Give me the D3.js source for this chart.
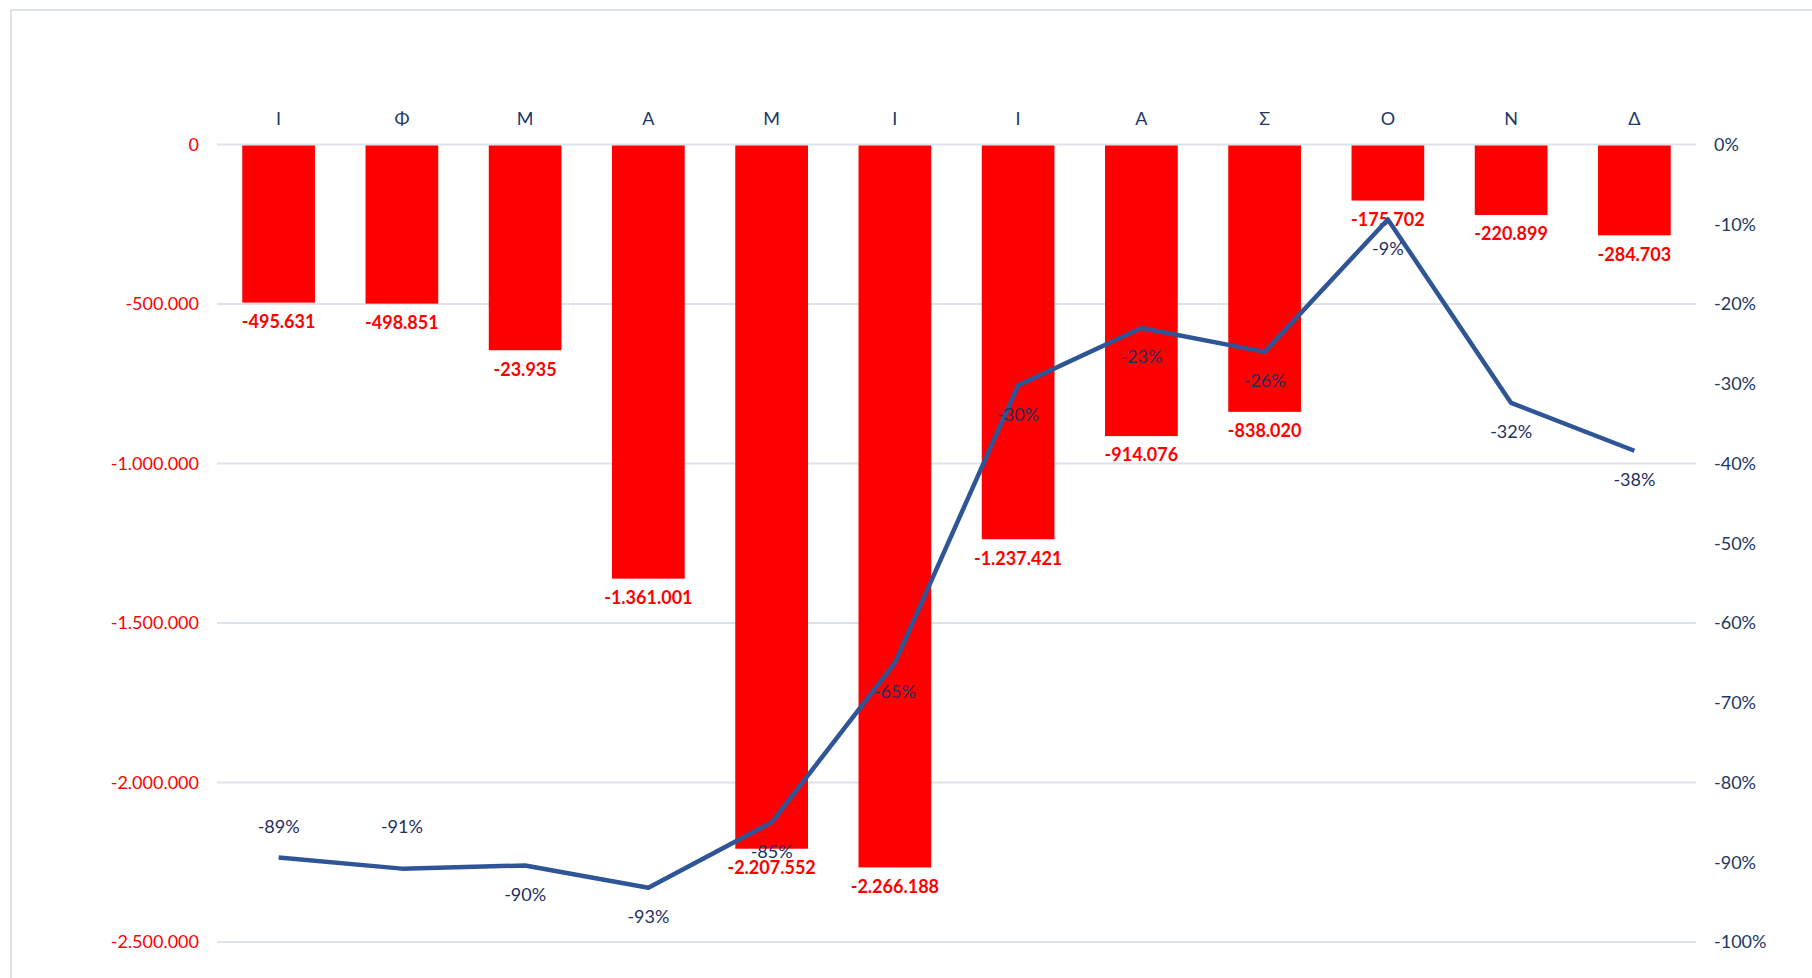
<!DOCTYPE html>
<html>
<head>
<meta charset="utf-8">
<script src="https://cdn.jsdelivr.net/npm/d3@7"></script>
<style>
  body { margin: 0; background: #fff; }
  svg { font-family: Lato, "Open Sans", sans-serif; }
</style>
</head>
<body>
<div id="chart"></div>
<script>
"use strict";

// Month initials (Greek)
const months = ["Ι", "Φ", "Μ", "Α", "Μ", "Ι", "Ι", "Α", "Σ", "Ο", "Ν", "Δ"];
// Bar values (left axis)
const barValues = [-495631, -498851, -645000, -1361001, -2207552, -2266188,
  -1237421, -914076, -838020, -175702, -220899, -284703];
// Bar labels as printed in the chart
const barLabels = ["-495.631", "-498.851", "-23.935", "-1.361.001", "-2.207.552", "-2.266.188",
  "-1.237.421", "-914.076", "-838.020", "-175.702", "-220.899", "-284.703"];
// Line values (right axis, fraction)
const lineValues = [-0.894, -0.908, -0.904, -0.932, -0.85, -0.65,
  -0.302, -0.23, -0.26, -0.094, -0.324, -0.384];
// Where each line label sits
const lineLabelPos = ["above", "above", "below", "below", "below", "below",
  "below", "below", "below", "below", "below", "below"];
const leftTicks = [0, -500000, -1000000, -1500000, -2000000, -2500000];
const rightTicks = [0, -10, -20, -30, -40, -50, -60, -70, -80, -90, -100].map((d) => d / 100);

function _main() {
  const WIDTH = 1812;
  const HEIGHT = 978;
  const PLOT = { left: 217, right: 1696, top: 144.5, bottom: 942 };

  const locale = d3.formatLocale({
    decimal: ",", thousands: ".", grouping: [3], currency: ["", "€"], minus: "-", percent: "%",
  });
  const fmtNum = locale.format(",d");
  const fmtPct = locale.format(".0%");

  const svg = d3.select("#chart").append("svg").attr("width", WIDTH).attr("height", HEIGHT);

  // Chart frame
  svg.append("rect")
    .attr("x", 11).attr("y", 10).attr("width", WIDTH).attr("height", HEIGHT)
    .attr("fill", "#fff").attr("stroke", "#dde1e8").attr("stroke-width", 2);

  const xScale = d3.scaleBand()
    .domain(d3.range(months.length))
    .range([PLOT.left, PLOT.right])
    .paddingInner(0.41)
    .paddingOuter(0.205);
  const yLeft = d3.scaleLinear().domain([-2500000, 0]).range([PLOT.bottom, PLOT.top]);
  const yRight = d3.scaleLinear().domain([-1, 0]).range([PLOT.bottom, PLOT.top]);

  // Gridlines
  svg.append("g")
    .selectAll("line")
    .data(leftTicks)
    .enter()
    .append("line")
    .attr("x1", PLOT.left).attr("x2", PLOT.right)
    .attr("y1", (d) => yLeft(d)).attr("y2", (d) => yLeft(d))
    .attr("stroke", "#dde2ea").attr("stroke-width", 2);

  // Bars
  svg.append("g")
    .selectAll("rect")
    .data(barValues)
    .enter()
    .append("rect")
    .attr("x", (d, i) => xScale(i))
    .attr("y", yLeft(0) + 1)
    .attr("width", xScale.bandwidth())
    .attr("height", (d) => yLeft(d) - yLeft(0) - 1)
    .attr("fill", "#ff0000");

  // Bar labels
  svg.append("g")
    .selectAll("text")
    .data(barValues)
    .enter()
    .append("text")
    .attr("x", (d, i) => xScale(i) + xScale.bandwidth() / 2)
    .attr("y", (d) => yLeft(d) + 19)
    .attr("dy", "0.35em")
    .attr("text-anchor", "middle")
    .attr("font-size", 18)
    .attr("font-weight", "bold")
    .attr("fill", "#ff0000")
    .text((d, i) => barLabels[i]);

  // Line
  const lineGenerator = d3.line()
    .x((d, i) => xScale(i) + xScale.bandwidth() / 2)
    .y((d) => yRight(d));
  svg.append("path")
    .datum(lineValues)
    .attr("d", lineGenerator)
    .attr("fill", "none")
    .attr("stroke", "#2f5597")
    .attr("stroke-width", 4.5)
    .attr("stroke-linejoin", "round");

  // Line labels
  svg.append("g")
    .selectAll("text")
    .data(lineValues)
    .enter()
    .append("text")
    .attr("x", (d, i) => xScale(i) + xScale.bandwidth() / 2)
    .attr("y", (d, i) => (lineLabelPos[i] === "above" ? yRight(-0.855) : yRight(d) + 29))
    .attr("dy", "0.35em")
    .attr("text-anchor", "middle")
    .attr("font-size", 18)
    .attr("fill", "#1f2f5f")
    .text((d) => fmtPct(d));

  // Category axis on top
  const topAxis = svg.append("g")
    .attr("transform", `translate(0, ${PLOT.top})`)
    .call(d3.axisTop(xScale).tickSize(0).tickPadding(20).tickFormat((i) => months[i]));
  topAxis.select(".domain").remove();
  topAxis.selectAll("text").attr("font-size", 18).attr("fill", "#203864")
    .attr("font-family", "Lato, sans-serif");

  // Left axis
  const leftAxis = svg.append("g")
    .attr("transform", `translate(${PLOT.left}, 0)`)
    .call(d3.axisLeft(yLeft).tickValues(leftTicks).tickSize(0).tickPadding(18).tickFormat(fmtNum));
  leftAxis.select(".domain").remove();
  leftAxis.selectAll("text").attr("font-size", 18).attr("fill", "#ff0000")
    .attr("font-family", "Lato, sans-serif");

  // Right axis
  const rightAxis = svg.append("g")
    .attr("transform", `translate(${PLOT.right}, 0)`)
    .call(d3.axisRight(yRight).tickValues(rightTicks).tickSize(0).tickPadding(18).tickFormat(fmtPct));
  rightAxis.select(".domain").remove();
  rightAxis.selectAll("text").attr("font-size", 18).attr("fill", "#203864")
    .attr("font-family", "Lato, sans-serif");
}

_main();
</script>
</body>
</html>
